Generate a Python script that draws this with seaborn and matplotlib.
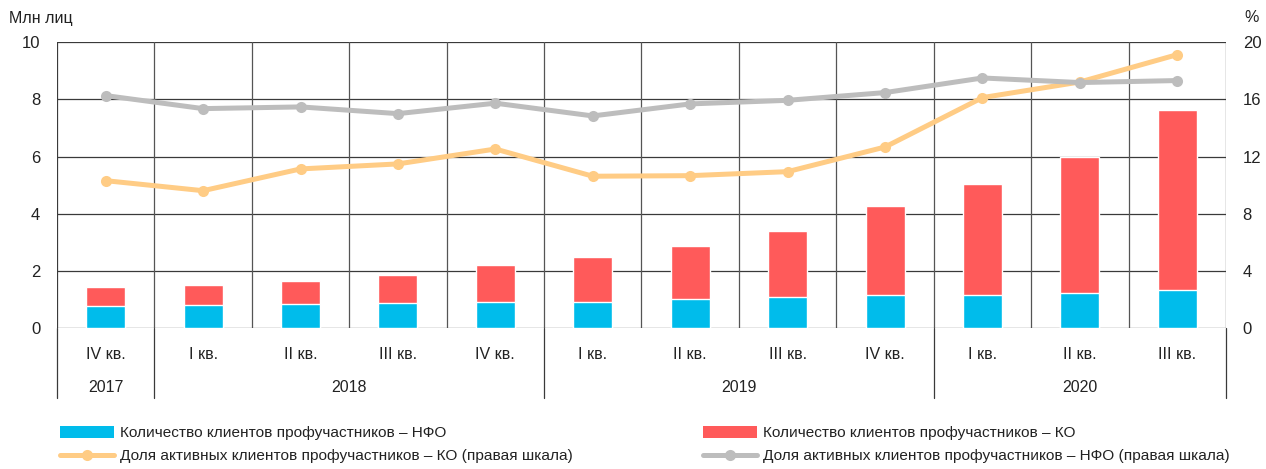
import matplotlib
matplotlib.use("Agg")
import matplotlib.pyplot as plt
import matplotlib.transforms as mtransforms
from matplotlib.lines import Line2D
from matplotlib.patches import Patch
import numpy as np
import pandas as pd
import seaborn as sns

# Data
quarters = ["IV кв.", "I кв.", "II кв.", "III кв.", "IV кв.",
            "I кв.", "II кв.", "III кв.", "IV кв.",
            "I кв.", "II кв.", "III кв."]
years = ["2017", "2018", "2018", "2018", "2018",
         "2019", "2019", "2019", "2019",
         "2020", "2020", "2020"]
# clients, mln
clients_nfo = [0.79, 0.81, 0.85, 0.88, 0.93, 0.94, 1.02, 1.10, 1.17, 1.18, 1.24, 1.34]
clients_ko = [0.66, 0.71, 0.81, 0.97, 1.29, 1.56, 1.87, 2.32, 3.10, 3.85, 4.76, 6.29]
# share of active clients, % (right axis)
share_ko = [10.32, 9.62, 11.14, 11.49, 12.53, 10.63, 10.67, 10.95, 12.67, 16.12, 17.21, 19.12]
share_nfo = [16.26, 15.35, 15.47, 15.00, 15.73, 14.84, 15.68, 15.93, 16.47, 17.49, 17.17, 17.31]

BLUE = "#00BCEB"
RED = "#FF5A5A"
ORANGE = "#FFCC85"
GREY = "#BDBDBD"
GRID = "#3a3a3a"
TXT = "#222222"

df = pd.DataFrame({
    "period": [f"{q} {y}" for q, y in zip(quarters, years)],
    "nfo": clients_nfo,
    "ko": clients_ko,
    "share_ko": share_ko,
    "share_nfo": share_nfo,
})
df["total"] = df["nfo"] + df["ko"]
df["pos"] = np.arange(len(df))

sns.set_theme(style="white")
plt.rcParams["font.family"] = ["Liberation Sans", "DejaVu Sans"]
plt.rcParams["text.color"] = TXT

fig = plt.figure(figsize=(12.66, 4.69), dpi=100)
ax = fig.add_axes([0.045, 0.2996, 0.9234, 0.6108])

# stacked bars: total in red, NFO in blue on top of it
sns.barplot(data=df, x="period", y="total", order=df["period"], color=RED,
            width=0.4, saturation=1, ax=ax, zorder=2)
sns.barplot(data=df, x="period", y="nfo", order=df["period"], color=BLUE,
            width=0.4, saturation=1, ax=ax, zorder=3)

ax.set_xlim(-0.5, len(df) - 0.5)
ax.set_ylim(0, 10)
ax.set_yticks(np.arange(0, 11, 2))
ax.set_xlabel("")
ax.set_ylabel("")
ax.set_xticks([])
ax.tick_params(axis="y", length=0, pad=12, labelsize=12, labelcolor=TXT)
for sp in ax.spines.values():
    sp.set_visible(False)
for yv in np.arange(0, 11, 2):
    ax.axhline(yv, color=GRID, lw=0.9, zorder=1)
for xv in np.arange(-0.5, len(df), 1.0):
    ax.axvline(xv, color=GRID if xv in (-0.5, len(df) - 0.5) else "#555555",
               lw=0.9, zorder=1)

# right axis with shares
ax2 = ax.twinx()
sns.lineplot(data=df, x="pos", y="share_ko", color=ORANGE, lw=3.6,
             marker="o", markersize=8, markeredgewidth=0, ax=ax2)
sns.lineplot(data=df, x="pos", y="share_nfo", color=GREY, lw=3.6,
             marker="o", markersize=8, markeredgewidth=0, ax=ax2)
ax2.set_ylim(0, 20)
ax2.set_yticks(np.arange(0, 21, 4))
ax2.set_xlim(-0.5, len(df) - 0.5)
ax2.set_xlabel("")
ax2.set_ylabel("")
ax2.tick_params(axis="y", length=0, pad=12, labelsize=12, labelcolor=TXT)
for sp in ax2.spines.values():
    sp.set_visible(False)

# category labels under the axis
trans = mtransforms.blended_transform_factory(ax.transData, ax.transAxes)
for i, q in enumerate(quarters):
    ax.text(i, -0.09, q, transform=trans, ha="center", va="center",
            fontsize=11.5, color=TXT)

# year groups and separators
bounds = [-0.5]
for i in range(1, len(years)):
    if years[i] != years[i - 1]:
        bounds.append(i - 0.5)
bounds.append(len(years) - 0.5)
for b in bounds:
    ax.plot([b, b], [0, -0.243], transform=trans, color=GRID, lw=0.9,
            clip_on=False)
for lo, hi in zip(bounds[:-1], bounds[1:]):
    ax.text((lo + hi) / 2, -0.205, years[int(lo + 0.5)], transform=trans,
            ha="center", va="center", fontsize=11.5, color=TXT)

fig.text(9 / 1266, 1 - 18 / 469, "Млн лиц", ha="left", va="center",
         fontsize=11.5)
fig.text(1259 / 1266, 1 - 17 / 469, "%", ha="right", va="center",
         fontsize=11.5)

# legend
h_nfo = Patch(facecolor=BLUE, edgecolor="none")
h_ko = Patch(facecolor=RED, edgecolor="none")
h_sko = Line2D([], [], color=ORANGE, lw=3.6, marker="o", markersize=8,
               markeredgewidth=0)
h_snfo = Line2D([], [], color=GREY, lw=3.6, marker="o", markersize=8,
                markeredgewidth=0)
common = dict(loc="upper left", frameon=False, fontsize=11.1,
              handlelength=3.5, handleheight=0.85, handletextpad=0.4,
              labelspacing=0.55, borderaxespad=0, borderpad=0)
leg1 = fig.legend([h_nfo, h_sko],
                  ["Количество клиентов профучастников – НФО",
                   "Доля активных клиентов профучастников – КО (правая шкала)"],
                  bbox_to_anchor=(60 / 1266, 1 - 426 / 469), **common)
leg2 = fig.legend([h_ko, h_snfo],
                  ["Количество клиентов профучастников – КО",
                   "Доля активных клиентов профучастников – НФО (правая шкала)"],
                  bbox_to_anchor=(703 / 1266, 1 - 426 / 469), **common)

fig.savefig("out.png", dpi=100)
